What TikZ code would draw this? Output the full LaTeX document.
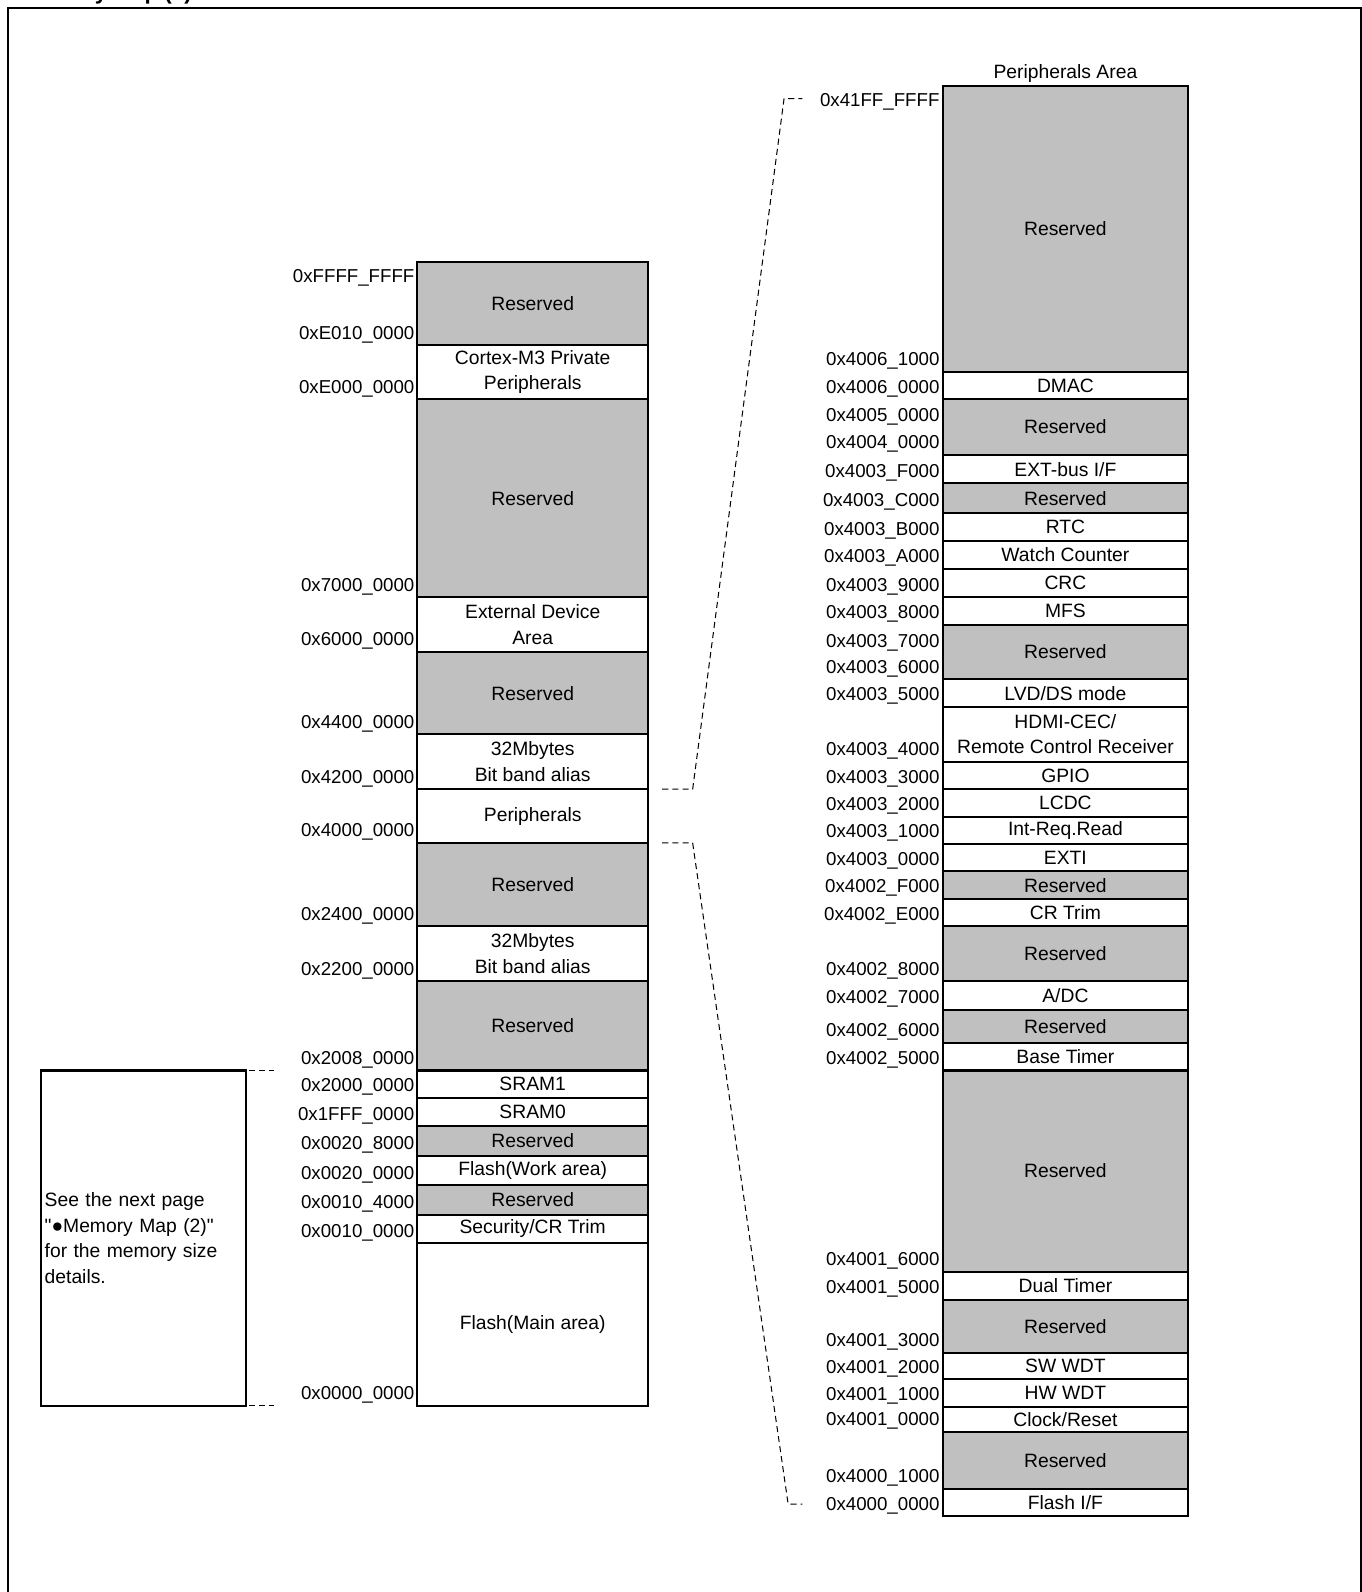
\documentclass[tikz,border=0pt]{standalone}
\usepackage{fontspec}
\setmainfont{Liberation Sans}[Ligatures=TeXOff]
\usetikzlibrary{positioning}
\definecolor{resgray}{RGB}{192,192,192}
\tikzstyle{cell} = [rectangle, draw=black, line width=1pt, fill=white, text centered, align=center, inner sep=0pt, outer sep=0pt, font=\fontsize{9.5}{12.5}\selectfont]
\tikzstyle{resv} = [cell, fill=resgray]
\tikzstyle{lcol} = [minimum width=113.5pt]
\tikzstyle{rcol} = [minimum width=121pt]
\tikzstyle{addr} = [inner sep=0pt, outer sep=0pt, text height=6.6pt, text depth=0pt, font=\fontsize{9.2}{11}\selectfont]
\tikzstyle{caption} = [inner sep=0pt, outer sep=0pt, text depth=0pt, font=\fontsize{9.5}{11}\selectfont]
\tikzstyle{link} = [line width=0.5pt, dash pattern=on 3pt off 2pt]
\tikzstyle{frame} = [line width=1pt]

\begin{document}
\begin{tikzpicture}[node distance=0pt, x=0.5pt, y=-0.5pt]
\useasboundingbox (0,0) rectangle (1341,1567.5);
\draw [frame] (8,1567.5) -- (8,8) -- (1340,8) -- (1340,1567.5);
\node (title) [anchor=base west, inner sep=0pt, font=\fontsize{11}{13}\selectfont\bfseries] at (21,0) {Memory Map (1)};

% whole address space
\node (lres1) [resv, lcol, minimum height=41pt, anchor=north west] at (411,258) {Reserved};
\node (lcortex) [cell, lcol, minimum height=26.5pt, below=of lres1] {Cortex-M3 Private\\Peripherals};
\node (lres2) [resv, lcol, minimum height=97.5pt, below=of lcortex] {Reserved};
\node (lext) [cell, lcol, minimum height=27pt, below=of lres2] {External Device\\Area};
\node (lres3) [resv, lcol, minimum height=40.5pt, below=of lext] {Reserved};
\node (lalias1) [cell, lcol, minimum height=27pt, below=of lres3] {32Mbytes\\Bit band alias};
\node (lperi) [cell, lcol, minimum height=26.5pt, below=of lalias1] {Peripherals};
\node (lres4) [resv, lcol, minimum height=41pt, below=of lperi] {Reserved};
\node (lalias2) [cell, lcol, minimum height=27pt, below=of lres4] {32Mbytes\\Bit band alias};
\node (lres5) [resv, lcol, minimum height=44pt, below=of lalias2] {Reserved};
\node (lsram1) [cell, lcol, minimum height=13.5pt, below=of lres5] {SRAM1};
\node (lsram0) [cell, lcol, minimum height=14pt, below=of lsram1] {SRAM0};
\node (lres6) [resv, lcol, minimum height=14.5pt, below=of lsram0] {Reserved};
\node (lwork) [cell, lcol, minimum height=14.5pt, below=of lres6] {Flash(Work area)};
\node (lres7) [resv, lcol, minimum height=14.5pt, below=of lwork] {Reserved};
\node (lsec) [cell, lcol, minimum height=14pt, below=of lres7] {Security/CR Trim};
\node (lmain) [cell, lcol, minimum height=80pt, below=of lsec] {Flash(Main area)};

\node (laFFFF) [addr, below left=3.5pt and 1.5pt of lres1.north west] {0xFFFF\_FFFF};
\node (laE010) [addr, above left=3pt and 1.5pt of lres1.south west] {0xE010\_0000};
\node (laE000) [addr, above left=3pt and 1.5pt of lcortex.south west] {0xE000\_0000};
\node (la7000) [addr, above left=3pt and 1.5pt of lres2.south west] {0x7000\_0000};
\node (la6000) [addr, above left=3pt and 1.5pt of lext.south west] {0x6000\_0000};
\node (la4400) [addr, above left=3pt and 1.5pt of lres3.south west] {0x4400\_0000};
\node (la4200) [addr, above left=3pt and 1.5pt of lalias1.south west] {0x4200\_0000};
\node (la4000) [addr, above left=3pt and 1.5pt of lperi.south west] {0x4000\_0000};
\node (la2400) [addr, above left=3pt and 1.5pt of lres4.south west] {0x2400\_0000};
\node (la2200) [addr, above left=3pt and 1.5pt of lalias2.south west] {0x2200\_0000};
\node (la2008) [addr, above left=3pt and 1.5pt of lres5.south west] {0x2008\_0000};
\node (la2000) [addr, above left=3pt and 1.5pt of lsram1.south west] {0x2000\_0000};
\node (la1FFF) [addr, above left=3pt and 1.5pt of lsram0.south west] {0x1FFF\_0000};
\node (la0020h) [addr, above left=3pt and 1.5pt of lres6.south west] {0x0020\_8000};
\node (la0020) [addr, above left=3pt and 1.5pt of lwork.south west] {0x0020\_0000};
\node (la0010h) [addr, above left=3pt and 1.5pt of lres7.south west] {0x0010\_4000};
\node (la0010) [addr, above left=3pt and 1.5pt of lsec.south west] {0x0010\_0000};
\node (la0000) [addr, above left=3pt and 1.5pt of lmain.south west] {0x0000\_0000};

\node (note) [cell, minimum width=101pt, minimum height=165pt, text width=97pt, align=left, anchor=north west] at (40,1054) {See the next page\\"●Memory Map (2)"\\for the memory size\\details.};

% peripherals area
\node (rres1) [resv, rcol, minimum height=140.5pt, anchor=north west] at (928,85) {Reserved};
\node (rdmac) [cell, rcol, minimum height=13.5pt, below=of rres1] {DMAC};
\node (rres2) [resv, rcol, minimum height=27.5pt, below=of rdmac] {Reserved};
\node (rextbus) [cell, rcol, minimum height=14pt, below=of rres2] {EXT-bus I/F};
\node (rres3) [resv, rcol, minimum height=14.5pt, below=of rextbus] {Reserved};
\node (rrtc) [cell, rcol, minimum height=14pt, below=of rres3] {RTC};
\node (rwatch) [cell, rcol, minimum height=13.5pt, below=of rrtc] {Watch Counter};
\node (rcrc) [cell, rcol, minimum height=14pt, below=of rwatch] {CRC};
\node (rmfs) [cell, rcol, minimum height=13.5pt, below=of rcrc] {MFS};
\node (rres4) [resv, rcol, minimum height=27pt, below=of rmfs] {Reserved};
\node (rlvd) [cell, rcol, minimum height=13.5pt, below=of rres4] {LVD/DS mode};
\node (rhdmi) [cell, rcol, minimum height=27pt, below=of rlvd] {HDMI-CEC/\\Remote Control Receiver};
\node (rgpio) [cell, rcol, minimum height=13.5pt, below=of rhdmi] {GPIO};
\node (rlcdc) [cell, rcol, minimum height=13.5pt, below=of rgpio] {LCDC};
\node (rintreq) [cell, rcol, minimum height=13.5pt, below=of rlcdc] {Int-Req.Read};
\node (rexti) [cell, rcol, minimum height=13.5pt, below=of rintreq] {EXTI};
\node (rres5) [resv, rcol, minimum height=13.5pt, below=of rexti] {Reserved};
\node (rcrtrim) [cell, rcol, minimum height=13.5pt, below=of rres5] {CR Trim};
\node (rres6) [resv, rcol, minimum height=27pt, below=of rcrtrim] {Reserved};
\node (radc) [cell, rcol, minimum height=14pt, below=of rres6] {A/DC};
\node (rres7) [resv, rcol, minimum height=16.5pt, below=of radc] {Reserved};
\node (rbt) [cell, rcol, minimum height=13.5pt, below=of rres7] {Base Timer};
\node (rres8) [resv, rcol, minimum height=99pt, below=of rbt] {Reserved};
\node (rdt) [cell, rcol, minimum height=14pt, below=of rres8] {Dual Timer};
\node (rres9) [resv, rcol, minimum height=26pt, below=of rdt] {Reserved};
\node (rswwdt) [cell, rcol, minimum height=13pt, below=of rres9] {SW WDT};
\node (rhwwdt) [cell, rcol, minimum height=13.5pt, below=of rswwdt] {HW WDT};
\node (rclock) [cell, rcol, minimum height=12.5pt, below=of rhwwdt] {Clock/Reset};
\node (rres10) [resv, rcol, minimum height=28pt, below=of rclock] {Reserved};
\node (rflash) [cell, rcol, minimum height=13.5pt, below=of rres10] {Flash I/F};

\node (rcap) [caption, above=4pt of rres1] {Peripherals Area};

\node (ra41FF) [addr, below left=3.5pt and 1.5pt of rres1.north west] {0x41FF\_FFFF};
\node (ra40061) [addr, above left=3pt and 1.5pt of rres1.south west] {0x4006\_1000};
\node (ra40060) [addr, above left=3pt and 1.5pt of rdmac.south west] {0x4006\_0000};
\node (ra4005) [addr, below left=4.5pt and 1.5pt of rres2.north west] {0x4005\_0000};
\node (ra4004) [addr, above left=3pt and 1.5pt of rres2.south west] {0x4004\_0000};
\node (ra4003F) [addr, above left=3pt and 1.5pt of rextbus.south west] {0x4003\_F000};
\node (ra4003C) [addr, above left=3pt and 1.5pt of rres3.south west] {0x4003\_C000};
\node (ra4003B) [addr, above left=3pt and 1.5pt of rrtc.south west] {0x4003\_B000};
\node (ra4003A) [addr, above left=3pt and 1.5pt of rwatch.south west] {0x4003\_A000};
\node (ra40039) [addr, above left=3pt and 1.5pt of rcrc.south west] {0x4003\_9000};
\node (ra40038) [addr, above left=3pt and 1.5pt of rmfs.south west] {0x4003\_8000};
\node (ra40037) [addr, below left=4.5pt and 1.5pt of rres4.north west] {0x4003\_7000};
\node (ra40036) [addr, above left=3pt and 1.5pt of rres4.south west] {0x4003\_6000};
\node (ra40035) [addr, above left=3pt and 1.5pt of rlvd.south west] {0x4003\_5000};
\node (ra40034) [addr, above left=3pt and 1.5pt of rhdmi.south west] {0x4003\_4000};
\node (ra40033) [addr, above left=3pt and 1.5pt of rgpio.south west] {0x4003\_3000};
\node (ra40032) [addr, above left=3pt and 1.5pt of rlcdc.south west] {0x4003\_2000};
\node (ra40031) [addr, above left=3pt and 1.5pt of rintreq.south west] {0x4003\_1000};
\node (ra40030) [addr, above left=3pt and 1.5pt of rexti.south west] {0x4003\_0000};
\node (ra4002F) [addr, above left=3pt and 1.5pt of rres5.south west] {0x4002\_F000};
\node (ra4002E) [addr, above left=3pt and 1.5pt of rcrtrim.south west] {0x4002\_E000};
\node (ra40028) [addr, above left=3pt and 1.5pt of rres6.south west] {0x4002\_8000};
\node (ra40027) [addr, above left=3pt and 1.5pt of radc.south west] {0x4002\_7000};
\node (ra40026) [addr, above left=3pt and 1.5pt of rres7.south west] {0x4002\_6000};
\node (ra40025) [addr, above left=3pt and 1.5pt of rbt.south west] {0x4002\_5000};
\node (ra40016) [addr, above left=3pt and 1.5pt of rres8.south west] {0x4001\_6000};
\node (ra40015) [addr, above left=3pt and 1.5pt of rdt.south west] {0x4001\_5000};
\node (ra40013) [addr, above left=3pt and 1.5pt of rres9.south west] {0x4001\_3000};
\node (ra40012) [addr, above left=3pt and 1.5pt of rswwdt.south west] {0x4001\_2000};
\node (ra40011) [addr, above left=3pt and 1.5pt of rhwwdt.south west] {0x4001\_1000};
\node (ra40010) [addr, above left=3pt and 1.5pt of rclock.south west] {0x4001\_0000};
\node (ra40001) [addr, above left=3pt and 1.5pt of rres10.south west] {0x4000\_1000};
\node (ra40000) [addr, above left=3pt and 1.5pt of rflash.south west] {0x4000\_0000};

% dashed leaders
\coordinate [right=7pt of lperi.north east] (pt0);
\coordinate [right=15pt of pt0] (pt1);
\coordinate [below left=6pt and 69pt of rres1.north west] (pt3);
\coordinate [left=9pt of pt3] (pt2);
\coordinate [right=7pt of lperi.south east] (pb0);
\coordinate [right=15pt of pb0] (pb1);
\coordinate [above left=6pt and 69pt of rflash.south west] (pb3);
\coordinate [left=7pt of pb3] (pb2);
\coordinate [right=1.5pt of note.north east] (nt0);
\coordinate [right=12.5pt of nt0] (nt1);
\coordinate [right=1.5pt of note.south east] (nb0);
\coordinate [right=12.5pt of nb0] (nb1);

\draw [link] (pt0) -- (pt1) -- (pt2) -- (pt3);
\draw [link] (pb0) -- (pb1) -- (pb2) -- (pb3);
\draw [link] (nt0) -- (nt1);
\draw [link] (nb0) -- (nb1);
\end{tikzpicture}
\end{document}
